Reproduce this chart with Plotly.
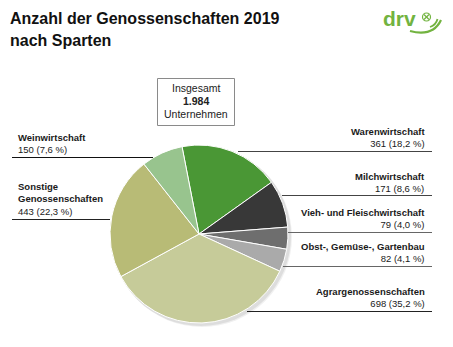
import plotly.graph_objects as go

W, H = 453, 347

# ---- data ----
categories = ["Warenwirtschaft", "Milchwirtschaft", "Vieh- und Fleischwirtschaft",
              "Obst-, Gemüse-, Gartenbau", "Agrargenossenschaften",
              "Sonstige Genossenschaften", "Weinwirtschaft"]
values = [361, 171, 79, 82, 698, 443, 150]
percent_labels = ["18,2", "8,6", "4,0", "4,1", "35,2", "22,3", "7,6"]
label_names = ["Warenwirtschaft", "Milchwirtschaft", "Vieh- und Fleischwirtschaft",
               "Obst-, Gemüse-, Gartenbau", "Agrargenossenschaften",
               "Sonstige<br>Genossenschaften", "Weinwirtschaft"]
total_label = "1.984"
colors = ["#4a9735", "#383838", "#6e6e6e", "#aaaaaa", "#c6cb99", "#b8bb76", "#98c48e"]

FONT = "Liberation Sans, Arial, sans-serif"
GREEN = "#72b340"


def px(x):
    return x / W


def py(y):
    return 1 - y / H


# pie geometry (pixels)
cx, cy, r = 199, 234, 89

fig = go.Figure()
fig.add_trace(go.Pie(
    labels=categories, values=values, sort=False, direction="clockwise",
    rotation=-11, textinfo="none", hoverinfo="label+value",
    marker=dict(colors=colors, line=dict(color="white", width=1)),
    domain=dict(x=[px(cx - r), px(cx + r)], y=[py(cy + r), py(cy - r)]),
    showlegend=False,
))
# invisible pixel-space axes for decorations
fig.add_trace(go.Scatter(x=[0], y=[0], mode="markers", marker=dict(opacity=0),
                         hoverinfo="skip", showlegend=False))

shapes = []
# soft shadow behind pie
for off, col in [(3, "rgba(0,0,0,0.06)"), (2, "rgba(0,0,0,0.08)")]:
    shapes.append(dict(type="circle", xref="paper", yref="paper", layer="below",
                       x0=px(cx - r - 1 + off), x1=px(cx + r + 1 + off),
                       y0=py(cy + r + 1 + off), y1=py(cy - r - 1 + off),
                       line=dict(width=0), fillcolor=col))

# leader lines (pixel coords)
lines = [
    (12, 157.5, 153, 157.5, "#111"),
    (12, 219.5, 110, 219.5, "#222"),
    (238, 151.5, 432, 151.5, "#444"),
    (282, 195.5, 432, 195.5, "#444"),
    (288, 232.5, 432, 232.5, "#666"),
    (283, 266.5, 432, 266.5, "#666"),
    (247, 311.5, 432, 311.5, "#222"),
]
for x0, y0, x1, y1, c in lines:
    shapes.append(dict(type="line", xref="x", yref="y",
                       x0=x0, y0=y0, x1=x1, y1=y1,
                       line=dict(color=c, width=1)))

# total box
shapes.append(dict(type="rect", xref="x", yref="y",
                   x0=157.5, x1=234.5, y0=78.5, y1=125.5,
                   line=dict(color="#8a8a8a", width=1), fillcolor="white", layer="below"))

# logo arcs and circled x
shapes.append(dict(type="path", xref="x", yref="y",
                   path="M 410 31 Q 433 37 441 20",
                   line=dict(color=GREEN, width=2.2)))
shapes.append(dict(type="path", xref="x", yref="y",
                   path="M 430 27 Q 436 25 437.5 19",
                   line=dict(color=GREEN, width=1.8)))
shapes.append(dict(type="circle", xref="x", yref="y",
                   x0=422.5, x1=430.5, y0=13, y1=21,
                   line=dict(color=GREEN, width=1.2)))
shapes.append(dict(type="line", xref="x", yref="y", x0=424, y0=14.5, x1=429, y1=19.5,
                   line=dict(color=GREEN, width=1.2)))
shapes.append(dict(type="line", xref="x", yref="y", x0=429, y0=14.5, x1=424, y1=19.5,
                   line=dict(color=GREEN, width=1.2)))

annotations = []
# title
annotations.append(dict(text="<b>Anzahl der Genossenschaften 2019</b>", x=px(8), y=py(19),
                        xref="paper", yref="paper", xanchor="left", yanchor="middle",
                        showarrow=False, font=dict(size=16, color="#111", family=FONT)))
annotations.append(dict(text="<b>nach Sparten</b>", x=px(8), y=py(41),
                        xref="paper", yref="paper", xanchor="left", yanchor="middle",
                        showarrow=False, font=dict(size=16, color="#111", family=FONT)))
# logo text
annotations.append(dict(text="<b>drv</b>", x=px(381), y=py(18), xref="paper", yref="paper",
                        xanchor="left", yanchor="middle", showarrow=False,
                        font=dict(size=21, color=GREEN, family=FONT)))

# total box text
for txt, yy in [("Insgesamt", 88), (f"<b>{total_label}</b>", 101), ("Unternehmen", 114)]:
    annotations.append(dict(text=txt, x=px(196), y=py(yy), xref="paper", yref="paper",
                            xanchor="center", yanchor="middle", showarrow=False,
                            font=dict(size=10.5, color="#222", family=FONT)))

# slice labels: (index, x, y_center, anchor)
label_pos = [
    (0, 427, 137.5, "right"),
    (1, 427, 182.5, "right"),
    (2, 427, 218, "right"),
    (3, 427, 252.5, "right"),
    (4, 427, 297.5, "right"),
    (5, 16, 198.5, "left"),
    (6, 16, 143, "left"),
]
for i, x, y, anc in label_pos:
    txt = f"<b>{label_names[i]}</b><br>{values[i]} ({percent_labels[i]} %)"
    annotations.append(dict(text=txt, x=px(x), y=py(y), xref="paper", yref="paper",
                            xanchor=anc, yanchor="middle", align=anc, showarrow=False,
                            font=dict(size=9.5, color="#1a1a1a", family=FONT)))

fig.update_layout(
    width=W, height=H, margin=dict(l=0, r=0, t=0, b=0),
    paper_bgcolor="white", plot_bgcolor="rgba(0,0,0,0)",
    xaxis=dict(range=[0, W], domain=[0, 1], visible=False, fixedrange=True),
    yaxis=dict(range=[H, 0], domain=[0, 1], visible=False, fixedrange=True),
    shapes=shapes, annotations=annotations,
)

fig.write_html("out.html")
